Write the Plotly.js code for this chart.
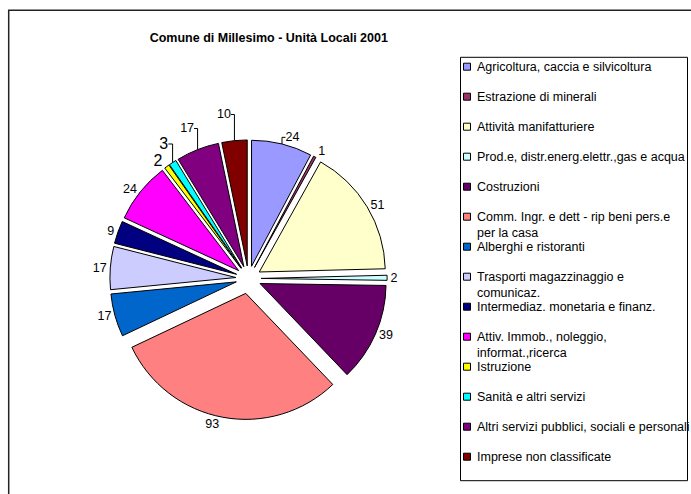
<!DOCTYPE html>
<html>
<head>
<meta charset="utf-8">
<script src="https://cdn.plot.ly/plotly-3.0.1.min.js"></script>
<style>
  html, body { margin:0; padding:0; background:#fff; }
  #chart { width:691px; height:494px; }
</style>
</head>
<body>
<div id="chart"></div>
<script>
// ---- data ----
var categories = [
  "Agricoltura, caccia e silvicoltura",
  "Estrazione di minerali",
  "Attività manifatturiere",
  "Prod.e, distr.energ.elettr.,gas e acqua",
  "Costruzioni",
  "Comm. Ingr. e dett - rip beni pers.e<br>per la casa",
  "Alberghi e ristoranti",
  "Trasporti magazzinaggio e<br>comunicaz.",
  "Intermediaz. monetaria e finanz.",
  "Attiv. Immob., noleggio,<br>informat.,ricerca",
  "Istruzione",
  "Sanità e altri servizi",
  "Altri servizi pubblici, sociali e personali",
  "Imprese non classificate"
];
var values = [24, 1, 51, 2, 39, 93, 17, 17, 9, 24, 2, 3, 17, 10];
var colors = ["#9999FF", "#993366", "#FFFFCC", "#CCFFFF", "#660066", "#FF8080", "#0066CC",
              "#CCCCFF", "#000080", "#FF00FF", "#FFFF00", "#00FFFF", "#800080", "#800000"];
var pulls = [0.1, 0.1, 0.1, 0.1, 0.1, 0.12, 0.1, 0.1, 0.1, 0.1, 0.1, 0.1, 0.1, 0.1];
var labelSizes = [12.5, 12.5, 12.5, 12.5, 12.5, 12.5, 12.5, 12.5, 12.5, 12.5, 16, 16, 12.5, 12.5];
var chartTitle = "Comune di Millesimo - Unità Locali 2001";

// ---- layout helpers (pixel -> paper, figure is 691x494 with zero margins) ----
var W = 691, H = 494;
function px(x) { return x / W; }
function py(y) { return 1 - y / H; }

var FONT = "Arial, 'Liberation Sans', sans-serif";

// pie box: centre (248.5, 278.5), radius 126, max pull 0.12
var cx = 248.5, cy = 278.5, r = 126, maxPull = Math.max.apply(null, pulls);
var half = r * (1 + maxPull);

var trace = {
  type: "pie",
  labels: categories,
  values: values,
  sort: false,
  direction: "clockwise",
  rotation: 0,
  pull: pulls,
  marker: { colors: colors, line: { color: "#000000", width: 1 } },
  textinfo: "value",
  textposition: "outside",
  textfont: { family: FONT, size: labelSizes, color: "#000000" },
  outsidetextfont: { family: FONT, size: labelSizes, color: "#000000" },
  showlegend: false,
  domain: { x: [px(cx - half), px(cx + half)], y: [py(cy + half), py(cy - half)] },
  hoverinfo: "label+value+percent"
};

// custom legend drawn with annotations + shapes
var annotations = [];
var shapes = [];
// outer chart frame
shapes.push({ type: "rect", xref: "paper", yref: "paper",
  x0: px(8.7), x1: 1.05, y0: -0.05, y1: py(10.3),
  line: { color: "#222222", width: 1.5 }, fillcolor: "rgba(0,0,0,0)" });
// legend frame
shapes.push({ type: "rect", xref: "paper", yref: "paper",
  x0: px(460.5), x1: px(687.5), y0: py(480.7), y1: py(57.3),
  line: { color: "#000000", width: 1 }, fillcolor: "rgba(0,0,0,0)" });

for (var i = 0; i < categories.length; i++) {
  var yc = 66.7 + 30 * i;
  var multi = categories[i].indexOf("<br>") >= 0;
  annotations.push({
    xref: "paper", yref: "paper",
    x: px(475), y: py(multi ? yc + 7.8 : yc),
    xanchor: "left", yanchor: "middle", align: "left",
    showarrow: false,
    text: categories[i],
    font: { family: FONT, size: 12.5, color: "#000000" }
  });
  shapes.push({ type: "rect", xref: "paper", yref: "paper",
    x0: px(463.5), x1: px(470.5), y0: py(yc + 3.5), y1: py(yc - 3.5),
    fillcolor: colors[i], line: { color: "#000000", width: 1 } });
}

var layout = {
  width: W, height: H,
  margin: { l: 0, r: 0, t: 0, b: 0 },
  paper_bgcolor: "#ffffff",
  plot_bgcolor: "#ffffff",
  title: {
    text: "<b>" + chartTitle + "</b>",
    x: px(268.8), xanchor: "center",
    y: py(37.7), yanchor: "middle",
    font: { family: FONT, size: 12.5, color: "#000000" }
  },
  showlegend: false,
  annotations: annotations,
  shapes: shapes
};

Plotly.newPlot("chart", [trace], layout, { displayModeBar: false });
</script>
</body>
</html>
